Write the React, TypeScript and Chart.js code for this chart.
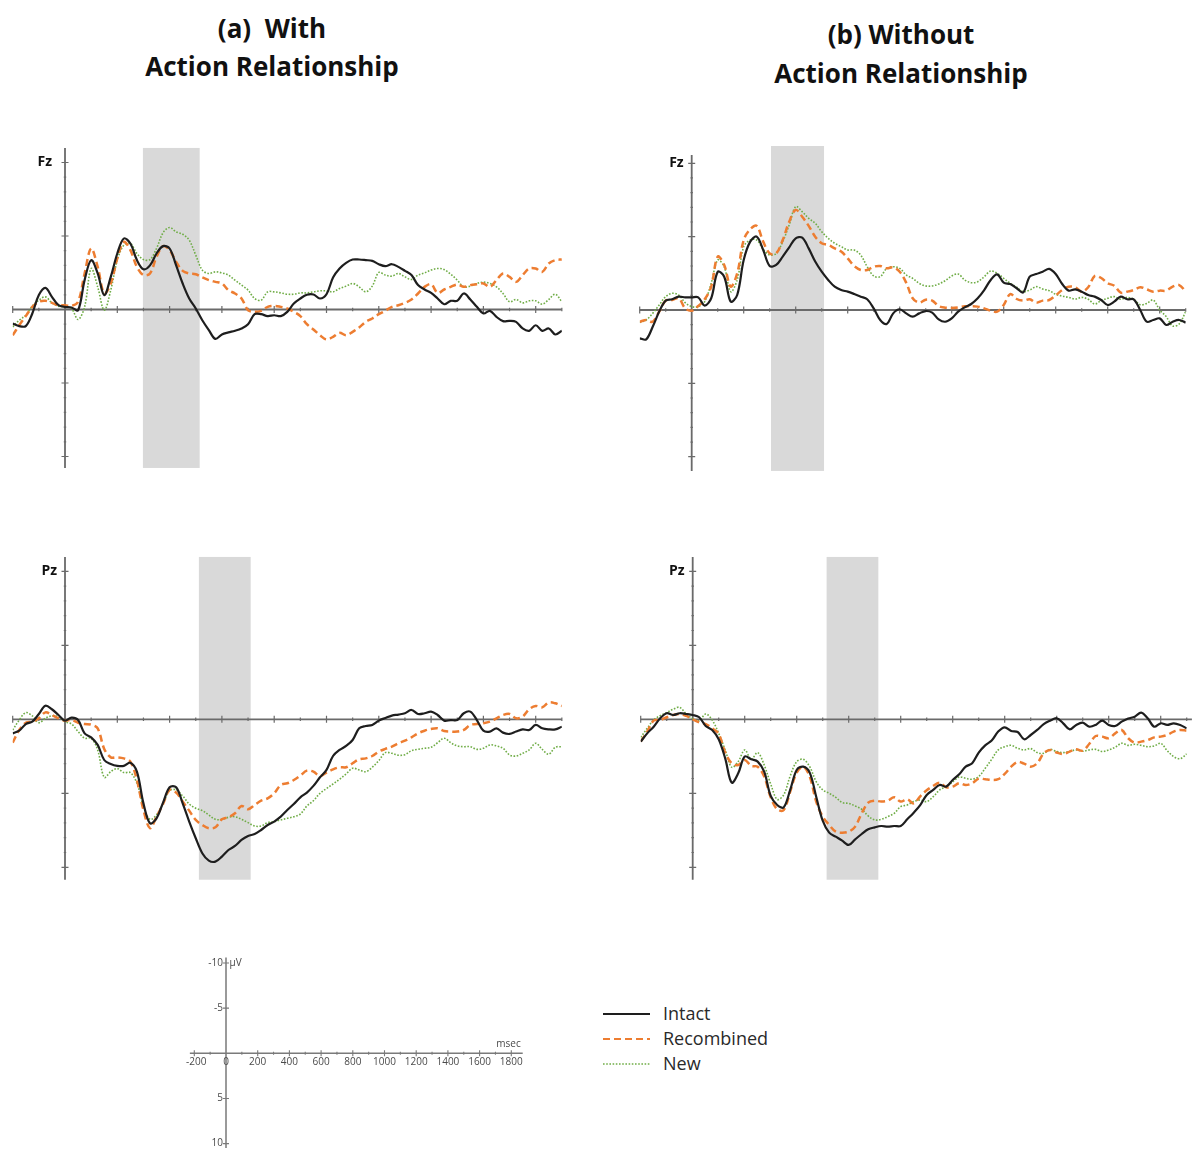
import React, { useEffect, useRef } from "react";
import { Chart, registerables } from "chart.js";

Chart.register(...registerables);

// ---------- DATA ----------
const TIMES_MS = [
  -200, -175, -150, -125, -100, -75, -50, -25, 0,
  25, 50, 75, 100, 125, 150, 175, 200,
  225, 250, 275, 300, 325, 350, 375, 400,
  425, 450, 475, 500, 525, 550, 575, 600,
  625, 650, 675, 700, 725, 750, 775, 800,
  825, 850, 875, 900, 925, 950, 975, 1000,
  1025, 1050, 1075, 1100, 1125, 1150, 1175, 1200,
  1225, 1250, 1275, 1300, 1325, 1350, 1375, 1400,
  1425, 1450, 1475, 1500, 1525, 1550, 1575, 1600,
  1625, 1650, 1675, 1700, 1725, 1750, 1775, 1800,
  1825, 1850, 1875, 1900,
];

const SERIES_NAMES = ["Intact", "Recombined", "New"];

// (a) With Action Relationship, Fz
const A_FZ_INTACT = [
  0.95, 1.13, 1.13, 0.27, -0.98, -1.47, -0.86, -0.29, -0.18,
  -0.14, 0.05, -2.0, -3.36, -2.45, -0.98, -2.22, -3.81,
  -4.83, -4.49, -3.36, -2.74, -3.0, -3.81, -4.31, -4.15,
  -3.0, -1.77, -0.75, -0.07, 0.73, 1.4, 2.0, 1.7,
  1.56, 1.45, 1.29, 1.0, 0.32, 0.32, 0.45, 0.39,
  0.45, 0.16, -0.41, -0.75, -1.0, -1.02, -0.75, -1.04,
  -2.18, -2.79, -3.17, -3.4, -3.4, -3.36, -3.31, -3.08,
  -2.95, -3.08, -2.9, -2.63, -2.34, -1.66, -1.36, -1.13,
  -0.75, -0.36, -0.59, -0.59, -1.09, -0.68, -0.18, 0.27,
  0.09, 0.5, 0.79, 0.77, 0.84, 1.29, 1.45, 1.07,
  1.45, 1.29, 1.7, 1.45,
];
const A_FZ_RECOMBINED = [
  1.75, 1.07, 0.45, -0.18, -0.52, -0.59, -0.45, -0.29, -0.29,
  -0.25, -0.52, -2.45, -4.15, -2.9, -1.09, -1.77, -3.47,
  -4.6, -4.04, -2.9, -2.34, -2.45, -3.58, -4.31, -4.04,
  -3.24, -2.63, -2.45, -2.4, -2.18, -2.0, -1.88, -1.77,
  -1.32, -1.09, -0.75, 0.05, 0.16, 0.09, -0.18, -0.25,
  -0.18, -0.07, 0.16, 0.45, 1.0, 1.36, 1.75, 2.04,
  1.86, 1.59, 1.75, 1.52, 1.22, 0.84, 0.61, 0.32,
  0.09, -0.18, -0.29, -0.45, -0.68, -1.09, -1.54, -1.72,
  -1.13, -1.36, -1.54, -1.7, -1.54, -1.66, -1.72, -1.77,
  -1.54, -2.0, -2.45, -2.22, -1.88, -2.34, -2.79, -2.79,
  -2.56, -3.13, -3.36, -3.4,
];
const A_FZ_NEW = [
  1.18, 0.73, 0.39, -0.23, -0.63, -0.86, -0.45, -0.23, -0.18,
  -0.07, 0.68, -0.18, -2.79, -1.54, 0.05, -1.32, -3.36,
  -4.38, -4.49, -3.81, -3.4, -3.4, -4.15, -5.22, -5.58,
  -5.28, -5.12, -4.72, -3.7, -2.68, -2.45, -2.56, -2.49,
  -2.34, -2.0, -1.66, -1.32, -0.75, -0.63, -1.2, -1.2,
  -1.13, -1.04, -1.04, -1.13, -1.13, -1.2, -1.27, -1.27,
  -1.2, -1.43, -1.59, -1.77, -1.54, -1.2, -1.59, -2.52,
  -2.34, -2.27, -2.45, -2.22, -2.04, -2.34, -2.49, -2.68,
  -2.79, -2.72, -2.4, -2.0, -1.54, -1.59, -1.77, -1.86,
  -1.77, -1.54, -1.09, -0.52, -0.68, -0.45, -0.59, -0.59,
  -0.36, -0.68, -1.04, -0.52,
];

// (b) Without Action Relationship, Fz
const B_FZ_INTACT = [
  1.93, 2.0, 1.14, 0.11, -0.64, -0.73, -0.91, -0.86, -0.86,
  -0.86, -0.3, -0.8, -2.6, -2.27, -0.57, -1.02, -3.41,
  -4.66, -5.0, -4.09, -3.0, -3.07, -3.64, -4.27, -4.89,
  -4.93, -4.2, -3.3, -2.61, -2.05, -1.59, -1.36, -1.25,
  -1.09, -0.91, -0.73, -0.11, 0.68, 0.95, 0.23, -0.05,
  0.23, 0.45, 0.23, 0.07, 0.18, 0.64, 0.8, 0.57,
  0.11, -0.18, -0.41, -0.8, -1.36, -2.05, -2.43, -1.86,
  -1.77, -1.48, -1.2, -2.27, -2.45, -2.61, -2.8, -2.45,
  -1.77, -1.32, -1.41, -1.25, -1.02, -0.91, -0.68, -0.34,
  -0.57, -0.91, -0.73, -0.73, 0.0, 0.8, 0.68, 0.57,
  1.02, 0.8, 0.68, 0.86,
];
const B_FZ_RECOMBINED = [
  0.8, 0.68, 0.8, 0.11, -0.64, -0.68, -0.8, -0.11, 0.05,
  -0.27, -0.73, -1.59, -3.64, -3.07, -1.59, -2.5, -4.77,
  -5.5, -5.73, -4.66, -3.86, -3.86, -4.77, -6.02, -6.82,
  -6.36, -5.73, -5.0, -4.55, -4.43, -4.2, -3.98, -3.52,
  -3.0, -2.73, -2.73, -2.95, -3.0, -2.84, -2.91, -2.61,
  -1.86, -0.8, -0.5, -0.7, -0.64, -0.27, -0.16, -0.14,
  -0.18, -0.25, -0.25, -0.23, -0.11, 0.05, 0.11, -0.34,
  -1.09, -0.75, -0.64, -0.73, -0.5, -0.64, -0.68, -1.0,
  -1.36, -1.59, -1.55, -1.25, -1.55, -2.32, -2.18, -1.82,
  -1.66, -1.18, -1.25, -1.36, -1.55, -1.41, -1.25, -1.32,
  -1.32, -1.59, -1.7, -1.25,
];
const B_FZ_NEW = [
  0.86, 0.68, 0.23, -0.34, -0.91, -1.14, -1.02, -0.5, -0.23,
  -0.23, -0.57, -1.82, -3.41, -2.95, -1.25, -2.05, -4.32,
  -4.77, -4.77, -4.14, -3.75, -3.86, -4.66, -5.8, -7.05,
  -6.7, -6.25, -5.91, -5.34, -4.89, -4.55, -4.32, -4.09,
  -4.09, -3.75, -2.95, -2.32, -2.27, -2.84, -2.95, -2.84,
  -2.39, -2.16, -1.82, -1.64, -1.64, -1.77, -2.0, -2.32,
  -2.45, -2.05, -1.86, -1.93, -2.27, -2.66, -2.5, -2.16,
  -1.82, -1.55, -1.25, -1.36, -1.59, -1.43, -1.32, -1.07,
  -0.95, -0.86, -0.75, -0.86, -0.73, -0.41, -0.64, -0.8,
  -0.91, -0.73, -0.86, -0.73, -0.36, -0.45, -0.68, 0.0,
  0.45, 1.09, 0.95, 0.11,
];

// (a) With Action Relationship, Pz
const A_PZ_INTACT = [
  0.95, 0.77, 0.32, 0.16, -0.36, -0.92, -0.68, -0.29, 0.09,
  -0.11, 0.05, 0.95, 1.22, 1.73, 2.75, 3.02, 3.15,
  3.15, 2.93, 3.54, 5.68, 7.03, 6.69, 5.63, 4.59,
  4.59, 5.68, 6.91, 8.04, 9.05, 9.55, 9.62, 9.28,
  8.83, 8.56, 8.15, 7.88, 7.75, 7.48, 7.14, 6.91,
  6.58, 6.13, 5.72, 5.27, 4.95, 4.5, 3.92, 3.42,
  2.48, 2.07, 1.8, 1.4, 0.61, 0.45, 0.38, 0.09,
  -0.09, -0.25, -0.32, -0.41, -0.63, -0.36, -0.41, -0.52,
  -0.29, 0.09, 0.05, 0.05, -0.41, -0.52, 0.05, 0.77,
  0.83, 0.61, 0.9, 0.99, 0.83, 0.68, 0.72, 0.38,
  0.61, 0.68, 0.68, 0.5,
];
const A_PZ_RECOMBINED = [
  1.58, 0.72, 0.23, 0.16, -0.07, -0.47, -0.29, -0.07, 0.09,
  0.05, 0.23, 0.32, 0.36, 0.61, 2.0, 2.57, 2.57,
  2.64, 2.86, 4.1, 6.13, 7.36, 6.58, 5.72, 4.77,
  4.95, 5.56, 6.17, 6.8, 7.14, 7.36, 7.3, 6.76,
  6.62, 6.35, 5.86, 6.08, 5.79, 5.5, 5.34, 5.0,
  4.44, 4.32, 4.1, 3.8, 3.47, 3.54, 3.83, 3.6,
  3.38, 3.24, 3.24, 2.97, 2.7, 2.64, 2.48, 2.18,
  2.0, 1.85, 1.62, 1.44, 1.22, 0.95, 0.77, 0.65,
  0.61, 0.79, 0.83, 0.83, 0.72, 0.38, 0.32, 0.27,
  0.16, -0.07, -0.29, -0.36, -0.07, -0.18, -0.68, -0.9,
  -0.81, -1.13, -1.08, -0.9,
];
const A_PZ_NEW = [
  0.72, 0.05, -0.45, -0.23, 0.23, -0.07, -0.23, -0.18, 0.16,
  0.32, 0.83, 1.28, 1.28, 2.07, 3.92, 3.54, 3.33,
  3.6, 3.6, 4.32, 5.9, 6.76, 6.46, 5.68, 4.82,
  4.77, 5.18, 5.72, 6.01, 6.17, 6.46, 6.76, 6.76,
  6.62, 6.58, 6.76, 6.98, 7.21, 7.21, 6.98, 6.91,
  6.8, 6.69, 6.58, 6.4, 5.86, 5.5, 5.0, 4.68,
  4.37, 4.05, 3.69, 3.31, 3.42, 3.54, 3.24, 2.79,
  2.25, 2.3, 2.43, 2.39, 2.12, 2.03, 1.96, 1.89,
  1.58, 1.28, 1.58, 1.8, 1.85, 1.85, 2.03, 1.96,
  1.73, 1.8, 1.96, 2.41, 2.48, 2.3, 2.07, 1.62,
  2.03, 2.36, 1.89, 1.85,
];

// (b) Without Action Relationship, Pz
const B_PZ_INTACT = [
  1.51, 0.95, 0.5, -0.07, -0.41, -0.29, -0.41, -0.36, -0.29,
  -0.14, 0.45, 0.72, 1.35, 2.64, 4.28, 3.65, 2.52,
  2.7, 2.86, 3.54, 5.18, 5.79, 5.95, 4.77, 3.42,
  3.2, 3.6, 5.23, 6.85, 7.66, 7.93, 8.2, 8.49,
  8.11, 7.75, 7.43, 7.3, 7.21, 7.25, 7.21, 7.21,
  6.76, 6.31, 5.8, 5.11, 4.77, 4.44, 4.55, 4.1,
  3.72, 3.2, 2.97, 2.25, 1.76, 1.44, 0.83, 0.54,
  0.79, 0.86, 1.35, 1.06, 0.72, 0.32, 0.09, -0.07,
  0.27, 0.68, 0.38, 0.23, 0.5, 0.38, 0.09, 0.38,
  0.45, 0.16, -0.05, -0.18, -0.45, -0.07, 0.5, 0.27,
  0.38, 0.27, 0.38, 0.61,
];
const B_PZ_RECOMBINED = [
  1.51, 0.83, 0.09, 0.05, -0.14, -0.29, -0.36, -0.23, 0.0,
  0.2, 0.32, 0.61, 0.99, 2.25, 2.97, 3.09, 2.75,
  3.15, 3.2, 3.87, 5.27, 6.08, 6.13, 4.89, 3.6,
  3.2, 3.87, 5.56, 6.58, 7.14, 7.59, 7.66, 7.59,
  7.25, 6.35, 5.63, 5.5, 5.56, 5.5, 5.27, 5.56,
  5.41, 5.68, 5.2, 4.8, 4.5, 4.28, 4.59, 4.55,
  4.32, 4.44, 4.32, 4.01, 4.05, 4.1, 4.05, 3.69,
  3.2, 2.88, 3.0, 3.2, 2.97, 2.3, 2.07, 2.25,
  2.34, 2.18, 2.03, 2.12, 1.67, 1.13, 1.17, 1.28,
  0.95, 0.72, 1.28, 1.58, 1.51, 1.4, 1.22, 1.17,
  1.06, 0.83, 0.72, 0.77,
];
const B_PZ_NEW = [
  1.22, 0.61, 0.05, -0.25, -0.45, -0.68, -0.81, -0.36, -0.05,
  0.09, -0.36, 0.05, 0.95, 2.07, 3.24, 2.86, 2.07,
  2.7, 2.25, 3.09, 4.37, 5.41, 5.11, 3.83, 2.86,
  2.7, 3.2, 4.21, 4.77, 5.0, 5.27, 5.63, 5.68,
  5.86, 6.08, 6.53, 6.8, 6.76, 6.58, 6.35, 5.9,
  5.79, 5.56, 5.45, 5.56, 5.23, 4.77, 4.55, 4.23,
  3.9, 3.99, 4.05, 3.87, 3.31, 2.7, 2.07, 1.85,
  1.76, 1.96, 2.07, 1.98, 2.25, 2.3, 2.03, 2.18,
  2.25, 2.16, 2.07, 2.16, 2.07, 2.03, 2.18, 2.07,
  1.89, 1.62, 1.76, 1.69, 1.76, 1.85, 1.8, 1.62,
  2.12, 2.52, 2.66, 2.34,
];

// analysis windows (ms)
const A_FZ_WINDOW = [298, 515];
const B_FZ_WINDOW = [305, 509];
const A_PZ_WINDOW = [512, 710];
const B_PZ_WINDOW = [515, 714];

// panel tick marks
const PANEL_X_TICKS = [-200, -100, 0, 100, 200, 300, 400, 500, 600, 700, 800, 900, 1000, 1100, 1200, 1300, 1400, 1500, 1600, 1700, 1800, 1900];
const PANEL_Y_TICKS = [-10, -9, -8, -7, -6, -5, -4, -3, -2, -1, 0, 1, 2, 3, 4, 5, 6, 7, 8, 9, 10];

// scale key
const KEY_X_TICK_LABELS = [-200, 0, 200, 400, 600, 800, 1000, 1200, 1400, 1600, 1800];
const KEY_X_MINOR_TICKS = [-100, 100, 300, 500, 700, 900, 1100, 1300, 1500, 1700];
const KEY_Y_TICK_LABELS = [-10, -5, 5, 10];

// ---------- STYLES / LAYOUT ----------
const COLORS = ["#1e1e1e", "#ED7D31", "#70AD47"];
const WIDTHS = [2.2, 2.5, 1.6];
const DASHES: number[][] = [[], [7, 4], [1.6, 1.6]];
const AXIS_COLOR = "#6a6a6a";
const BOX_COLOR = "#d9d9d9";
const X_MIN = -200;
const X_MAX = 1900;
const Y_MIN = -11.5;
const Y_MAX = 11.5;
const SANS = "'Open Sans', Lato, sans-serif";

type PanelCfg = {
  id: string;
  label: string;
  labelGap: number;
  left: number;
  top: number;
  width: number;
  height: number;
  zeroX: number;
  pxPerMs: number;
  zeroY: number;
  pxPerUv: number;
  window: number[];
  boxV: number[];
  axisV: number[];
  axisT: number[];
  series: number[][];
};

const PANELS: PanelCfg[] = [
  {
    id: "aFz", label: "Fz", labelGap: 13, left: 0, top: 120, width: 590, height: 370,
    zeroX: 65, pxPerMs: 0.2615, zeroY: 309.5, pxPerUv: 14.7,
    window: A_FZ_WINDOW, boxV: [-10.99, 10.78], axisV: [-10.99, 10.78], axisT: [-200, 1900],
    series: [A_FZ_INTACT, A_FZ_RECOMBINED, A_FZ_NEW],
  },
  {
    id: "bFz", label: "Fz", labelGap: 8, left: 620, top: 120, width: 573, height: 370,
    zeroX: 691.7, pxPerMs: 0.26, zeroY: 310, pxPerUv: 14.67,
    window: B_FZ_WINDOW, boxV: [-11.18, 10.97], axisV: [-10.57, 10.97], axisT: [-200, 1900],
    series: [B_FZ_INTACT, B_FZ_RECOMBINED, B_FZ_NEW],
  },
  {
    id: "aPz", label: "Pz", labelGap: 8, left: 0, top: 530, width: 590, height: 370,
    zeroX: 65, pxPerMs: 0.2615, zeroY: 719.3, pxPerUv: 14.8,
    window: A_PZ_WINDOW, boxV: [-10.97, 10.84], axisV: [-10.97, 10.84], axisT: [-200, 1900],
    series: [A_PZ_INTACT, A_PZ_RECOMBINED, A_PZ_NEW],
  },
  {
    id: "bPz", label: "Pz", labelGap: 8, left: 620, top: 530, width: 573, height: 370,
    zeroX: 692.7, pxPerMs: 0.26, zeroY: 719.3, pxPerUv: 14.8,
    window: B_PZ_WINDOW, boxV: [-10.97, 10.84], axisV: [-10.97, 10.84], axisT: [-200, 1920],
    series: [B_PZ_INTACT, B_PZ_RECOMBINED, B_PZ_NEW],
  },
];

const KEY = {
  left: 170, top: 945, width: 370, height: 204,
  zeroX: 226, pxPerMs: 0.1585, zeroY: 1053.3, pxPerUv: 9.03,
  xMin: -240, xMax: 1890, yMin: -11, yMax: 10.5,
};

function paddingFor(left: number, top: number, width: number, height: number, zeroX: number, pxPerMs: number, zeroY: number, pxPerUv: number, xMin: number, xMax: number, yMin: number, yMax: number) {
  return {
    left: zeroX + pxPerMs * xMin - left,
    right: left + width - (zeroX + pxPerMs * xMax),
    top: zeroY + pxPerUv * yMin - top,
    bottom: top + height - (zeroY + pxPerUv * yMax),
  };
}

function panelDecor(p: PanelCfg) {
  return {
    id: "panelDecor_" + p.id,
    beforeDatasetsDraw(chart: any) {
      const ctx: CanvasRenderingContext2D = chart.ctx;
      const xs = chart.scales.x;
      const ys = chart.scales.y;
      ctx.save();
      const bx1 = xs.getPixelForValue(p.window[0]);
      const bx2 = xs.getPixelForValue(p.window[1]);
      const by1 = ys.getPixelForValue(p.boxV[0]);
      const by2 = ys.getPixelForValue(p.boxV[1]);
      ctx.fillStyle = BOX_COLOR;
      ctx.fillRect(bx1, by1, bx2 - bx1, by2 - by1);

      const ax = xs.getPixelForValue(0);
      const ay = ys.getPixelForValue(0);
      ctx.strokeStyle = AXIS_COLOR;
      ctx.lineWidth = 1.8;
      ctx.beginPath();
      ctx.moveTo(xs.getPixelForValue(p.axisT[0]), ay);
      ctx.lineTo(xs.getPixelForValue(p.axisT[1]), ay);
      ctx.moveTo(ax, ys.getPixelForValue(p.axisV[0]));
      ctx.lineTo(ax, ys.getPixelForValue(p.axisV[1]));
      ctx.stroke();

      ctx.lineWidth = 1.2;
      ctx.beginPath();
      for (const t of PANEL_X_TICKS) {
        if (t === 0) continue;
        const px = xs.getPixelForValue(t);
        const len = t % 200 === 0 ? 3.5 : 1.8;
        ctx.moveTo(px, ay - len);
        ctx.lineTo(px, ay + len);
      }
      for (const v of PANEL_Y_TICKS) {
        if (v === 0) continue;
        const py = ys.getPixelForValue(v);
        const len = v % 5 === 0 ? 3.5 : 1.2;
        ctx.moveTo(ax - len, py);
        ctx.lineTo(ax + len, py);
      }
      ctx.stroke();

      ctx.fillStyle = "#111";
      ctx.font = "bold 14px " + SANS;
      ctx.textAlign = "right";
      ctx.textBaseline = "middle";
      ctx.fillText(p.label, ax - p.labelGap, ys.getPixelForValue(-10));
      ctx.restore();
    },
  };
}

function makePanelChart(canvas: HTMLCanvasElement, p: PanelCfg) {
  const pad = paddingFor(p.left, p.top, p.width, p.height, p.zeroX, p.pxPerMs, p.zeroY, p.pxPerUv, X_MIN, X_MAX, Y_MIN, Y_MAX);
  return new Chart(canvas, {
    type: "line",
    data: {
      datasets: p.series.map((vals, i) => ({
        label: SERIES_NAMES[i],
        data: TIMES_MS.map((t, k) => ({ x: t, y: vals[k] })),
        borderColor: COLORS[i],
        borderWidth: WIDTHS[i],
        borderDash: DASHES[i],
        borderCapStyle: "butt" as const,
        borderJoinStyle: "round" as const,
        pointRadius: 0,
        tension: 0.35,
        fill: false,
      })),
    },
    options: {
      responsive: false,
      animation: false,
      events: [],
      layout: { padding: pad },
      plugins: { legend: { display: false }, tooltip: { enabled: false }, title: { display: false } },
      scales: {
        x: { type: "linear", min: X_MIN, max: X_MAX, display: false },
        y: { type: "linear", min: Y_MIN, max: Y_MAX, reverse: true, display: false },
      },
    },
    plugins: [panelDecor(p)],
  } as any);
}

const keyDecor = {
  id: "keyDecor",
  afterDraw(chart: any) {
    const ctx: CanvasRenderingContext2D = chart.ctx;
    const xs = chart.scales.x;
    const ys = chart.scales.y;
    const ax = xs.getPixelForValue(0);
    const ay = ys.getPixelForValue(0);
    ctx.save();
    ctx.strokeStyle = "#7a7a7a";
    ctx.lineWidth = 1.5;
    ctx.beginPath();
    ctx.moveTo(xs.getPixelForValue(-228), ay);
    ctx.lineTo(xs.getPixelForValue(1872), ay);
    ctx.moveTo(ax, ys.getPixelForValue(-10.6));
    ctx.lineTo(ax, ys.getPixelForValue(10.5));
    ctx.stroke();
    ctx.lineWidth = 1.1;
    ctx.beginPath();
    for (const t of KEY_X_TICK_LABELS) {
      if (t === 0) continue;
      const px = xs.getPixelForValue(t);
      ctx.moveTo(px, ay - 3);
      ctx.lineTo(px, ay + 3);
    }
    for (const t of KEY_X_MINOR_TICKS) {
      const px = xs.getPixelForValue(t);
      ctx.moveTo(px, ay - 1.5);
      ctx.lineTo(px, ay + 1.5);
    }
    for (const v of KEY_Y_TICK_LABELS) {
      const py = ys.getPixelForValue(v);
      ctx.moveTo(ax - 3, py);
      ctx.lineTo(ax + 3, py);
    }
    ctx.stroke();

    ctx.fillStyle = "#4a4a4a";
    ctx.font = "10px " + SANS;
    ctx.textBaseline = "middle";
    ctx.textAlign = "center";
    for (const t of KEY_X_TICK_LABELS) {
      ctx.fillText(String(t), xs.getPixelForValue(t) + (t < 0 ? 2 : 0), ay + 8.5);
    }
    ctx.textAlign = "right";
    for (const v of KEY_Y_TICK_LABELS) {
      ctx.fillText(String(v), ax - 3, ys.getPixelForValue(v));
    }
    ctx.textAlign = "left";
    ctx.fillText("\u00B5V", ax + 3.5, ys.getPixelForValue(-10));
    ctx.textAlign = "right";
    ctx.fillText("msec", xs.getPixelForValue(1872) - 2, ay - 9);
    ctx.restore();
  },
};

function makeKeyChart(canvas: HTMLCanvasElement) {
  const pad = paddingFor(KEY.left, KEY.top, KEY.width, KEY.height, KEY.zeroX, KEY.pxPerMs, KEY.zeroY, KEY.pxPerUv, KEY.xMin, KEY.xMax, KEY.yMin, KEY.yMax);
  return new Chart(canvas, {
    type: "line",
    data: { datasets: [] },
    options: {
      responsive: false,
      animation: false,
      events: [],
      layout: { padding: pad },
      plugins: { legend: { display: false }, tooltip: { enabled: false } },
      scales: {
        x: { type: "linear", min: KEY.xMin, max: KEY.xMax, display: false },
        y: { type: "linear", min: KEY.yMin, max: KEY.yMax, reverse: true, display: false },
      },
    },
    plugins: [keyDecor],
  } as any);
}

const titleStyle: React.CSSProperties = {
  position: "absolute",
  width: 440,
  textAlign: "center",
  fontFamily: SANS,
  fontWeight: 700,
  fontSize: 26,
  lineHeight: "38.7px",
  color: "#111",
  whiteSpace: "pre",
};

const LEGEND_ROWS = [
  { y: 1014 },
  { y: 1039 },
  { y: 1064 },
];

export default function App() {
  const panelRefs = useRef<(HTMLCanvasElement | null)[]>([]);
  const keyRef = useRef<HTMLCanvasElement | null>(null);

  useEffect(() => {
    const charts: Chart[] = [];
    PANELS.forEach((p, i) => {
      const c = panelRefs.current[i];
      if (c) charts.push(makePanelChart(c, p));
    });
    if (keyRef.current) charts.push(makeKeyChart(keyRef.current));
    return () => charts.forEach((c) => c.destroy());
  }, []);

  return (
    <div style={{ position: "absolute", left: 0, top: 0, width: 1193, height: 1149, background: "#fff", overflow: "hidden" }}>
      <div style={{ ...titleStyle, left: 272 - 220, top: 8.5 }}>{"(a)  With\nAction Relationship"}</div>
      <div style={{ ...titleStyle, left: 901 - 220, top: 15 }}>{"(b) Without\nAction Relationship"}</div>

      {PANELS.map((p, i) => (
        <canvas
          key={p.id}
          ref={(el) => {
            panelRefs.current[i] = el;
          }}
          width={p.width}
          height={p.height}
          style={{ position: "absolute", left: p.left, top: p.top, width: p.width, height: p.height }}
        />
      ))}

      <canvas
        ref={keyRef}
        width={KEY.width}
        height={KEY.height}
        style={{ position: "absolute", left: KEY.left, top: KEY.top, width: KEY.width, height: KEY.height }}
      />

      {LEGEND_ROWS.map((r, i) => (
        <div key={SERIES_NAMES[i]} style={{ position: "absolute", left: 600, top: r.y - 13, height: 26, width: 200 }}>
          <svg width={52} height={26} style={{ position: "absolute", left: 0, top: 0 }}>
            <line
              x1={3}
              y1={13}
              x2={50}
              y2={13}
              stroke={COLORS[i]}
              strokeWidth={i === 2 ? 1.5 : 2}
              strokeDasharray={DASHES[i].length ? DASHES[i].join(",") : undefined}
            />
          </svg>
          <span
            style={{
              position: "absolute",
              left: 63,
              top: 0,
              fontFamily: SANS,
              fontSize: 18,
              lineHeight: "24px",
              color: "#2a2a2a",
              whiteSpace: "nowrap",
            }}
          >
            {SERIES_NAMES[i]}
          </span>
        </div>
      ))}
    </div>
  );
}
